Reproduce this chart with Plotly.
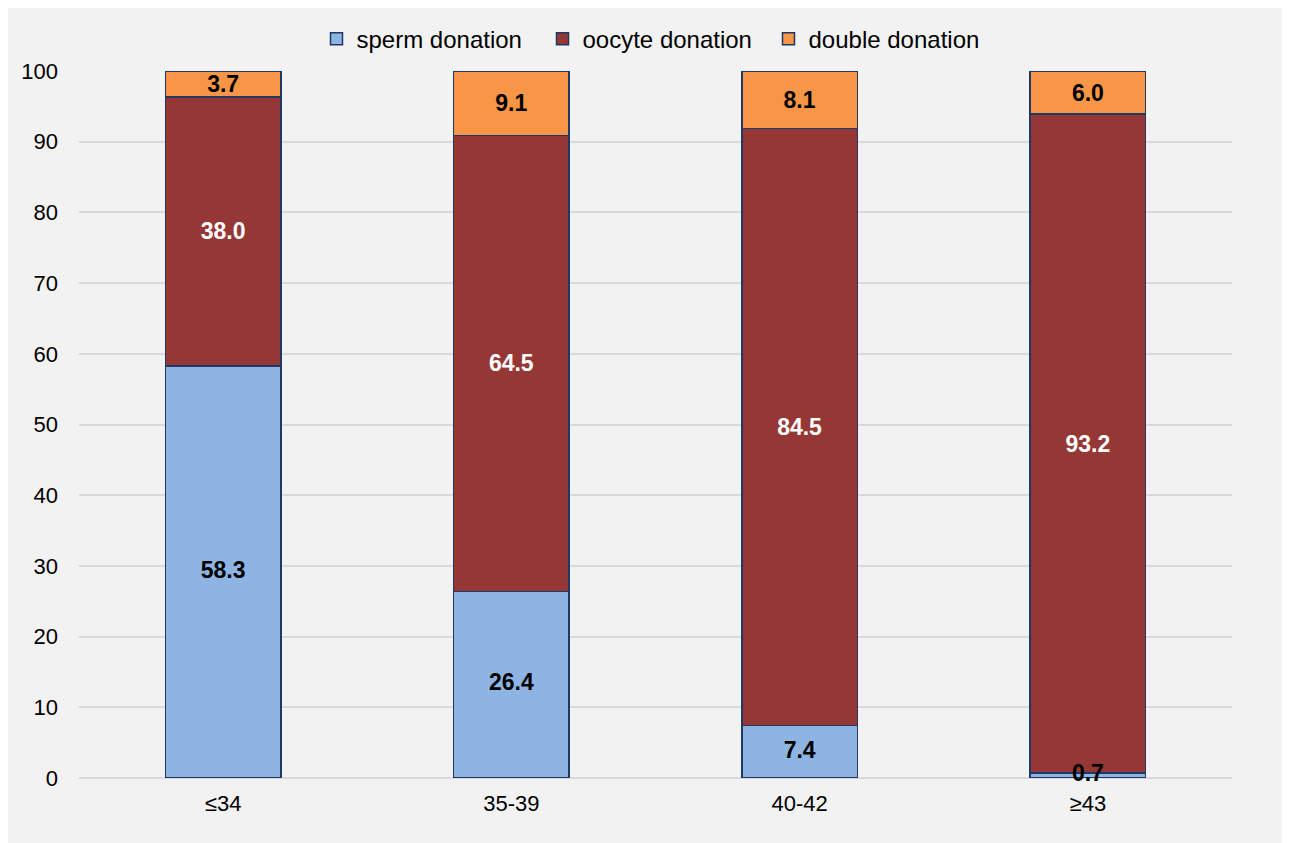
import plotly.graph_objects as go

categories = ["≤34", "35-39", "40-42", "≥43"]
sperm = [58.3, 26.4, 7.4, 0.7]
oocyte = [38.0, 64.5, 84.5, 93.2]
double = [3.7, 9.1, 8.1, 6.0]

series = [
    ("sperm donation", sperm, "#8EB4E3", "black"),
    ("oocyte donation", oocyte, "#953735", "white"),
    ("double donation", double, "#F79646", "black"),
]

FONT = "Liberation Sans, Arial"

fig = go.Figure()
for name, vals, color, tcolor in series:
    is_sperm = name.startswith("sperm")
    fig.add_trace(go.Bar(
        x=categories, y=vals, name=name,
        marker=dict(color=color, line=dict(color="#1F3864", width=1.5)),
        text=None if is_sperm else [f"{v:.1f}" for v in vals],
        textposition="inside", insidetextanchor="middle",
        constraintext="none", cliponaxis=False,
        textfont=dict(family=FONT, size=23, color=tcolor, weight="bold"),
    ))

# sperm labels drawn on top so the tiny 0.7 segment label stays visible
fig.add_trace(go.Scatter(
    x=categories, y=[v / 2 for v in sperm], mode="text",
    text=[f"{v:.1f}" for v in sperm], showlegend=False, cliponaxis=False,
    textfont=dict(family=FONT, size=23, color="black", weight="bold"),
    hoverinfo="skip",
))

fig.update_layout(
    barmode="stack",
    bargap=0.6,
    width=1290, height=843,
    margin=dict(l=71, r=66, t=63, b=73, autoexpand=False),
    paper_bgcolor="#F2F2F2",
    plot_bgcolor="rgba(0,0,0,0)",
    font=dict(family=FONT, size=22, color="black"),
    legend=dict(orientation="h", x=0.5, xanchor="center", y=1.045, yanchor="middle",
                font=dict(size=24), bgcolor="rgba(0,0,0,0)", traceorder="normal",
                entrywidth=181, entrywidthmode="pixels", itemwidth=30),
    xaxis=dict(showgrid=False, showline=False, ticks="", tickfont=dict(size=22),
               ticklabelstandoff=10),
    yaxis=dict(range=[0, 100], dtick=10, showgrid=True, gridcolor="#D9D9D9", gridwidth=1.5,
               zeroline=True, zerolinecolor="#D9D9D9", zerolinewidth=1.5,
               showline=False, ticks="", ticklabelstandoff=20, tickfont=dict(size=22)),
)

fig.write_html("out.html")
